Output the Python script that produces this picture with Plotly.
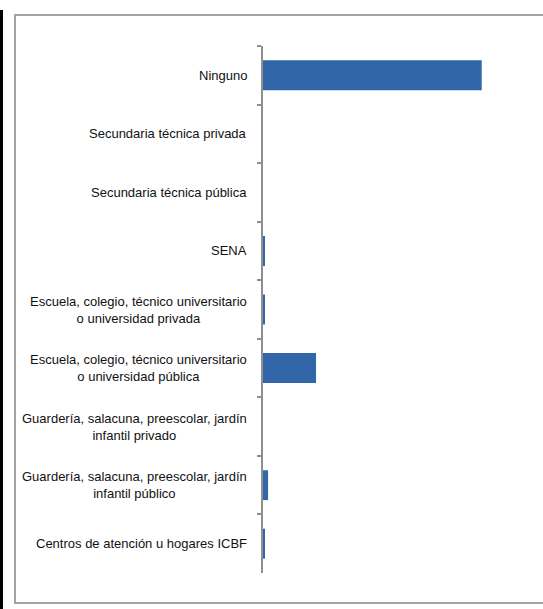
import plotly.graph_objects as go

# Categories listed top to bottom as shown on the chart
categories = [
    "Ninguno",
    "Secundaria técnica privada",
    "Secundaria técnica pública",
    "SENA",
    "Escuela, colegio, técnico universitario<br>o universidad privada",
    "Escuela, colegio, técnico universitario<br>o universidad pública",
    "Guardería, salacuna, preescolar, jardín<br>infantil privado",
    "Guardería, salacuna, preescolar, jardín<br>infantil público",
    "Centros de atención u hogares ICBF",
]
# Share of people per type of institution (%)
values = [77.5, 0.0, 0.0, 0.4, 0.4, 18.8, 0.0, 1.8, 0.5]

W, H = 543, 609
L, R, T, B = 263, 26, 46, 36
pw = W - L - R
ph = H - T - B


def px_x(p):
    return (p - L) / pw


def px_y(p):
    return (H - B - p) / ph


fig = go.Figure()
fig.add_trace(go.Bar(
    x=values,
    y=categories,
    orientation="h",
    marker=dict(color="#3166a8", line=dict(width=0)),
    hoverinfo="x+y",
))

# Category labels, centred line by line and right-aligned to the axis
annotations = [
    dict(
        x=0, xref="paper", xanchor="right", xshift=-14,
        y=c, yref="y", yanchor="middle",
        text=c, showarrow=False, align="center",
        font=dict(family="Liberation Sans", size=13, color="#111111"),
    )
    for c in categories
]

shapes = [
    # chart frame (open on the right)
    dict(type="rect", xref="paper", yref="paper",
         x0=px_x(15), x1=px_x(560), y0=px_y(603), y1=px_y(15),
         line=dict(color="#a3a3a3", width=2), fillcolor="rgba(0,0,0,0)", layer="below"),
    # dark rule at the far left edge
    dict(type="rect", xref="paper", yref="paper",
         x0=px_x(0), x1=px_x(3), y0=px_y(615), y1=px_y(10),
         line=dict(width=0), fillcolor="#000000", layer="above"),
]

fig.update_layout(
    width=W, height=H,
    margin=dict(l=L, r=R, t=T, b=B, pad=0),
    paper_bgcolor="white", plot_bgcolor="white",
    showlegend=False,
    bargap=0.49,
    annotations=annotations,
    shapes=shapes,
    xaxis=dict(visible=False, range=[0, 90], fixedrange=True),
    yaxis=dict(
        autorange="reversed",
        showline=True, linecolor="#8f8f8f", linewidth=2,
        ticks="outside", ticklen=4, tickwidth=1.5, tickcolor="#8f8f8f",
        tickson="boundaries",
        showticklabels=False, showgrid=False, zeroline=False,
        fixedrange=True,
    ),
)

fig.write_html("out.html")
